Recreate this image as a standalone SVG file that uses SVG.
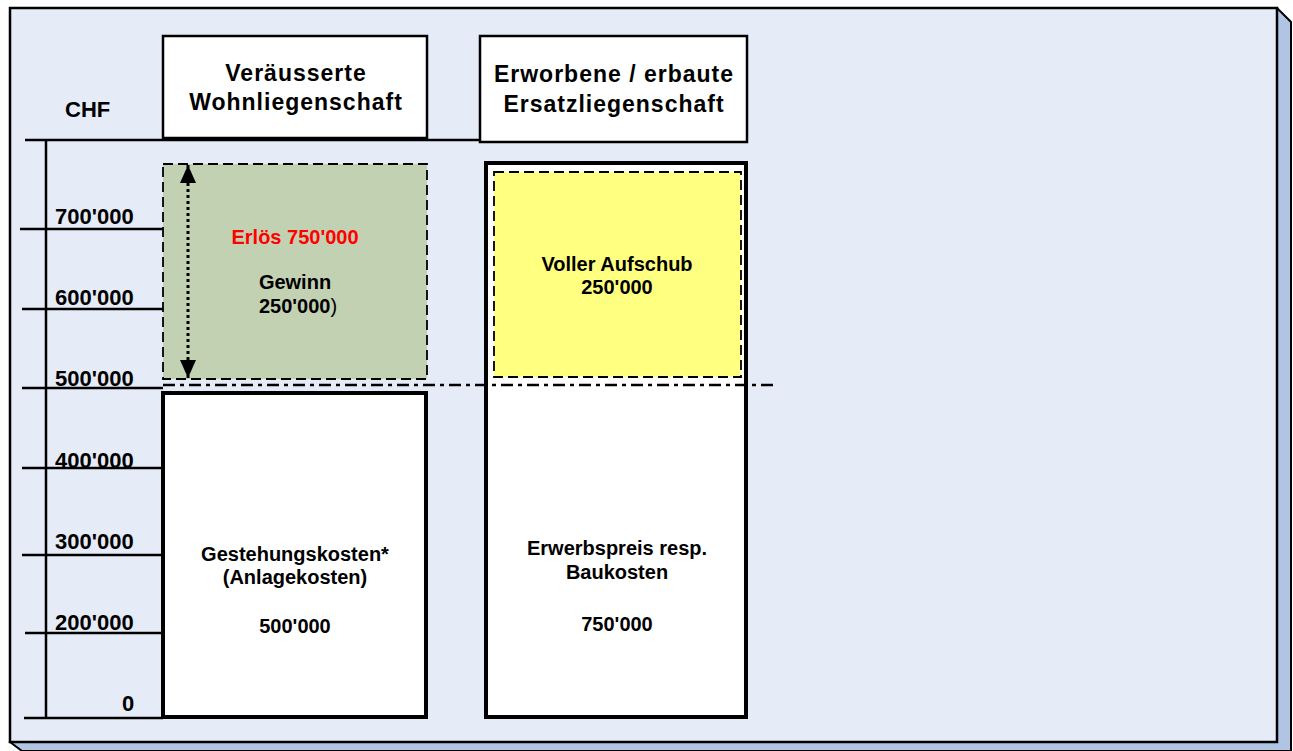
<svg xmlns="http://www.w3.org/2000/svg" width="1293" height="751" viewBox="0 0 1293 751">
<defs>
<style>
.t{font-family:"Liberation Sans",Arial,sans-serif;font-weight:bold;font-size:20px;fill:#000;text-anchor:middle}
.hd{font-size:23px;letter-spacing:1px}
.ax{font-size:22px;text-anchor:start}
.tick{stroke:#000;stroke-width:2.5;fill:none}
.box{fill:#fff;stroke:#000;stroke-width:4}
.hbox{fill:#fff;stroke:#000;stroke-width:2.5}
.dash{stroke:#000;stroke-width:1.8;stroke-dasharray:10 5}
</style>
<marker id="ah" viewBox="0 0 18 16" refX="18" refY="8" markerWidth="18" markerHeight="16" markerUnits="userSpaceOnUse" orient="auto-start-reverse">
<path d="M0,0 L18,8 L0,16 Z" fill="#000"/>
</marker>
</defs>

<g id="frame">
<polygon points="10,742 22,751 1291,751 1291,22 1277,8" fill="#b0c4e4" stroke="#000" stroke-width="2"/>
<rect x="10" y="8" width="1267" height="734" fill="#e6ecf7" stroke="#000" stroke-width="2.5"/>
</g>

<g id="axis">
<line class="tick" x1="25" y1="140" x2="480" y2="140"/>
<line class="tick" x1="46" y1="140" x2="46" y2="718"/>
<line class="tick" x1="20" y1="229" x2="163" y2="229"/>
<line class="tick" x1="22" y1="309" x2="163" y2="309"/>
<line class="tick" x1="22" y1="388" x2="163" y2="388"/>
<line class="tick" x1="22" y1="468" x2="163" y2="468"/>
<line class="tick" x1="22" y1="555" x2="163" y2="555"/>
<line class="tick" x1="25" y1="633" x2="163" y2="633"/>
<line class="tick" x1="24" y1="718" x2="163" y2="718"/>
<text class="t ax" x="65" y="117">CHF</text>
<text class="t ax" x="55" y="224">700'000</text>
<text class="t ax" x="55" y="305">600'000</text>
<text class="t ax" x="55" y="386">500'000</text>
<text class="t ax" x="55" y="468">400'000</text>
<text class="t ax" x="55" y="549">300'000</text>
<text class="t ax" x="55" y="630">200'000</text>
<text class="t ax" x="122" y="711">0</text>
</g>

<g id="header-left">
<rect class="hbox" x="163" y="36" width="264" height="102"/>
<text class="t hd" x="296" y="81">Veräusserte</text>
<text class="t hd" x="296" y="110">Wohnliegenschaft</text>
</g>

<g id="header-right">
<rect class="hbox" x="480" y="36" width="267" height="106"/>
<text class="t hd" x="614" y="82">Erworbene / erbaute</text>
<text class="t hd" x="614" y="112">Ersatzliegenschaft</text>
</g>

<g id="gewinn">
<rect class="dash" x="163" y="164" width="264" height="215" fill="#c3d1b3"/>
<text class="t" x="295" y="244" style="fill:#ff0000">Erlös 750'000</text>
<text class="t" x="295" y="289">Gewinn</text>
<text class="t" x="298" y="313">250'000<tspan style="font-weight:normal">)</tspan></text>
</g>

<g id="gestehung">
<rect class="box" x="163" y="393" width="263" height="324"/>
<text class="t" x="295" y="561">Gestehungskosten*</text>
<text class="t" x="295" y="584">(Anlagekosten)</text>
<text class="t" x="295" y="633">500'000</text>
</g>

<g id="ersatz">
<rect class="box" x="486" y="163" width="260" height="554"/>
<text class="t" x="617" y="555">Erwerbspreis resp.</text>
<text class="t" x="617" y="579">Baukosten</text>
<text class="t" x="617" y="631">750'000</text>
</g>

<g id="aufschub">
<rect class="dash" x="494" y="172" width="247" height="205" fill="#ffff80"/>
<text class="t" x="617" y="271">Voller Aufschub</text>
<text class="t" x="617" y="294">250'000</text>
</g>

<g id="connectors">
<line x1="163" y1="385" x2="775" y2="385" stroke="#000" stroke-width="2.5" stroke-dasharray="12 5 4 5"/>
<line x1="188" y1="165" x2="188" y2="378" stroke="#000" stroke-width="3" stroke-dasharray="3 3" marker-start="url(#ah)" marker-end="url(#ah)"/>
</g>
</svg>
